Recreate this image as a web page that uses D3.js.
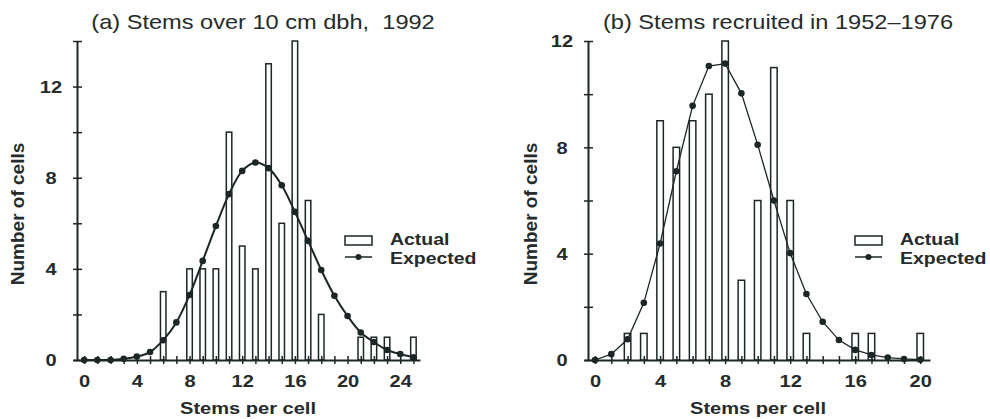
<!DOCTYPE html>
<html>
<head>
<meta charset="utf-8">
<script src="https://cdn.jsdelivr.net/npm/d3@7"></script>
<style>
  body { margin: 0; background: #fff; }
  svg { font-family: "Liberation Sans", Arial, Helvetica, sans-serif; }
  text { white-space: pre; }
</style>
</head>
<body>
<div id="chart"></div>
<script>
// panel (a): stems over 10 cm dbh, 1992
const stemsA = d3.range(0, 26);
const actualA = [0, 0, 0, 0, 0, 0, 3, 0, 4, 4, 4, 10, 5, 4, 13, 6, 14, 7, 2, 0, 0, 1, 1, 1, 0, 1];
const expectedA = [0, 0, 0, 0.05, 0.15, 0.35, 0.87, 1.65, 2.85, 4.35, 5.88, 7.28, 8.3, 8.67,
                   8.42, 7.67, 6.5, 5.23, 3.95, 2.82, 1.93, 1.21, 0.79, 0.44, 0.26, 0.12];

// panel (b): stems recruited in 1952-1976
const stemsB = d3.range(0, 21);
const actualB = [0, 0, 1, 1, 9, 8, 9, 10, 12, 3, 6, 11, 6, 1, 0, 0, 1, 1, 0, 0, 1];
const expectedB = [0, 0.22, 0.78, 2.15, 4.38, 7.1, 9.56, 11.06, 11.15, 10.03, 8.1, 6.0,
                   4.02, 2.48, 1.44, 0.75, 0.38, 0.19, 0.09, 0.04, 0.01];

const titleA = "(a) Stems over 10 cm dbh,  1992";
const titleB = "(b) Stems recruited in 1952\u20131976";
const xLabel = "Stems per cell";
const yLabel = "Number of cells";

const ink = "#1c2626";
const textInk = "#262b2b";
const width = 990, height = 419;
const sx = 1.18; // the original lettering is a bit wider than Arial

const svg = d3.select("#chart")
    .append("svg")
    .attr("width", width)
    .attr("height", height);

function label(g, x, y, txt, size, bold, anchor) {
    return g.append("text")
        .attr("transform", `translate(${x},${y}) scale(${sx},1)`)
        .attr("text-anchor", anchor || "middle")
        .attr("font-size", size)
        .attr("font-weight", bold ? "bold" : "normal")
        .attr("fill", textInk)
        .text(txt);
}

function drawPanel(opt) {
    const x = d3.scaleLinear().domain(opt.xDomain).range(opt.xRange);
    const y = d3.scaleLinear().domain([0, opt.yMax]).range([360, 41]);
    const g = svg.append("g");

    // bars
    g.append("g")
        .selectAll("rect")
        .data(opt.stems.filter((d, i) => opt.actual[i] > 0))
        .join("rect")
        .attr("x", d => x(d) - opt.barW / 2)
        .attr("y", d => y(opt.actual[d]))
        .attr("width", opt.barW)
        .attr("height", d => y(0) - y(opt.actual[d]))
        .attr("fill", "#fff")
        .attr("stroke", ink)
        .attr("stroke-width", 1.5);

    // x axis
    const xAxis = g.append("g")
        .attr("transform", "translate(0,360)")
        .call(d3.axisBottom(x)
            .tickValues(opt.stems)
            .tickFormat(d => d % 4 === 0 ? d : "")
            .tickSizeOuter(0));
    xAxis.select(".domain").attr("stroke", ink).attr("stroke-width", 2);
    xAxis.selectAll(".tick line").attr("y1", -4).attr("y2", 4)
        .attr("stroke", ink).attr("stroke-width", 1.5);
    xAxis.selectAll(".tick text").attr("y", 0).attr("dy", 0)
        .attr("transform", `translate(0,27) scale(${sx},1)`)
        .attr("font-size", 17).attr("font-weight", "bold").attr("fill", textInk);

    // y axis
    const yAxis = g.append("g")
        .attr("transform", `translate(${opt.yAxisX},0)`)
        .call(d3.axisLeft(y)
            .tickValues(d3.range(0, opt.yMax + 1, 2))
            .tickFormat(d => d % 4 === 0 ? d : "")
            .tickSizeOuter(0));
    yAxis.select(".domain").attr("stroke", ink).attr("stroke-width", 2);
    yAxis.selectAll(".tick line").attr("x1", -4).attr("x2", 5)
        .attr("stroke", ink).attr("stroke-width", 1.5);
    yAxis.selectAll(".tick text").attr("x", 0).attr("dy", "0.35em")
        .attr("transform", `translate(-26,0) scale(${sx},1)`)
        .attr("text-anchor", "middle")
        .attr("font-size", 17).attr("font-weight", "bold").attr("fill", textInk);

    // expected curve
    const line = d3.line()
        .x((d, i) => x(opt.stems[i]))
        .y(d => y(d))
        .curve(opt.curve);
    g.append("path")
        .datum(opt.expected)
        .attr("fill", "none")
        .attr("stroke", ink)
        .attr("stroke-width", opt.lineW)
        .attr("d", line);
    g.append("g")
        .selectAll("circle")
        .data(opt.expected)
        .join("circle")
        .attr("cx", (d, i) => x(opt.stems[i]))
        .attr("cy", d => y(d))
        .attr("r", 3.3)
        .attr("fill", ink);

    // title and axis labels
    label(g, opt.titleX, 29, opt.title, 20, false);
    label(g, opt.xLabelX, 414, xLabel, 17, true);
    g.append("text")
        .attr("transform", `translate(${opt.yLabelX},214) rotate(-90)`)
        .attr("text-anchor", "middle")
        .attr("font-size", 19).attr("font-weight", "bold")
        .attr("fill", textInk)
        .text(yLabel);

    // legend
    const lg = g.append("g").attr("transform", `translate(${opt.legendX},0)`);
    lg.append("rect")
        .attr("x", 0).attr("y", 236).attr("width", 27).attr("height", 9)
        .attr("fill", "#fff").attr("stroke", ink).attr("stroke-width", 1.5);
    lg.append("line")
        .attr("x1", 0).attr("x2", 27).attr("y1", 257).attr("y2", 257)
        .attr("stroke", ink).attr("stroke-width", 1.5);
    lg.append("circle").attr("cx", 13.5).attr("cy", 257).attr("r", 3).attr("fill", ink);
    label(lg, 45, 245, "Actual", 16.5, true, "start");
    label(lg, 45, 264, "Expected", 16.5, true, "start");
}

drawPanel({
    stems: stemsA, actual: actualA, expected: expectedA,
    xDomain: [-0.85, 25.5], xRange: [73, 420], yMax: 14, yAxisX: 77,
    barW: 5.5, lineW: 2, curve: d3.curveCatmullRom,
    title: titleA, titleX: 263, xLabelX: 248, yLabelX: 24, legendX: 345
});

drawPanel({
    stems: stemsB, actual: actualB, expected: expectedB,
    xDomain: [-0.68, 20.6], xRange: [584, 930], yMax: 12, yAxisX: 588,
    barW: 6.5, lineW: 1.3, curve: d3.curveLinear,
    title: titleB, titleX: 778, xLabelX: 758, yLabelX: 537, legendX: 855
});
</script>
</body>
</html>
